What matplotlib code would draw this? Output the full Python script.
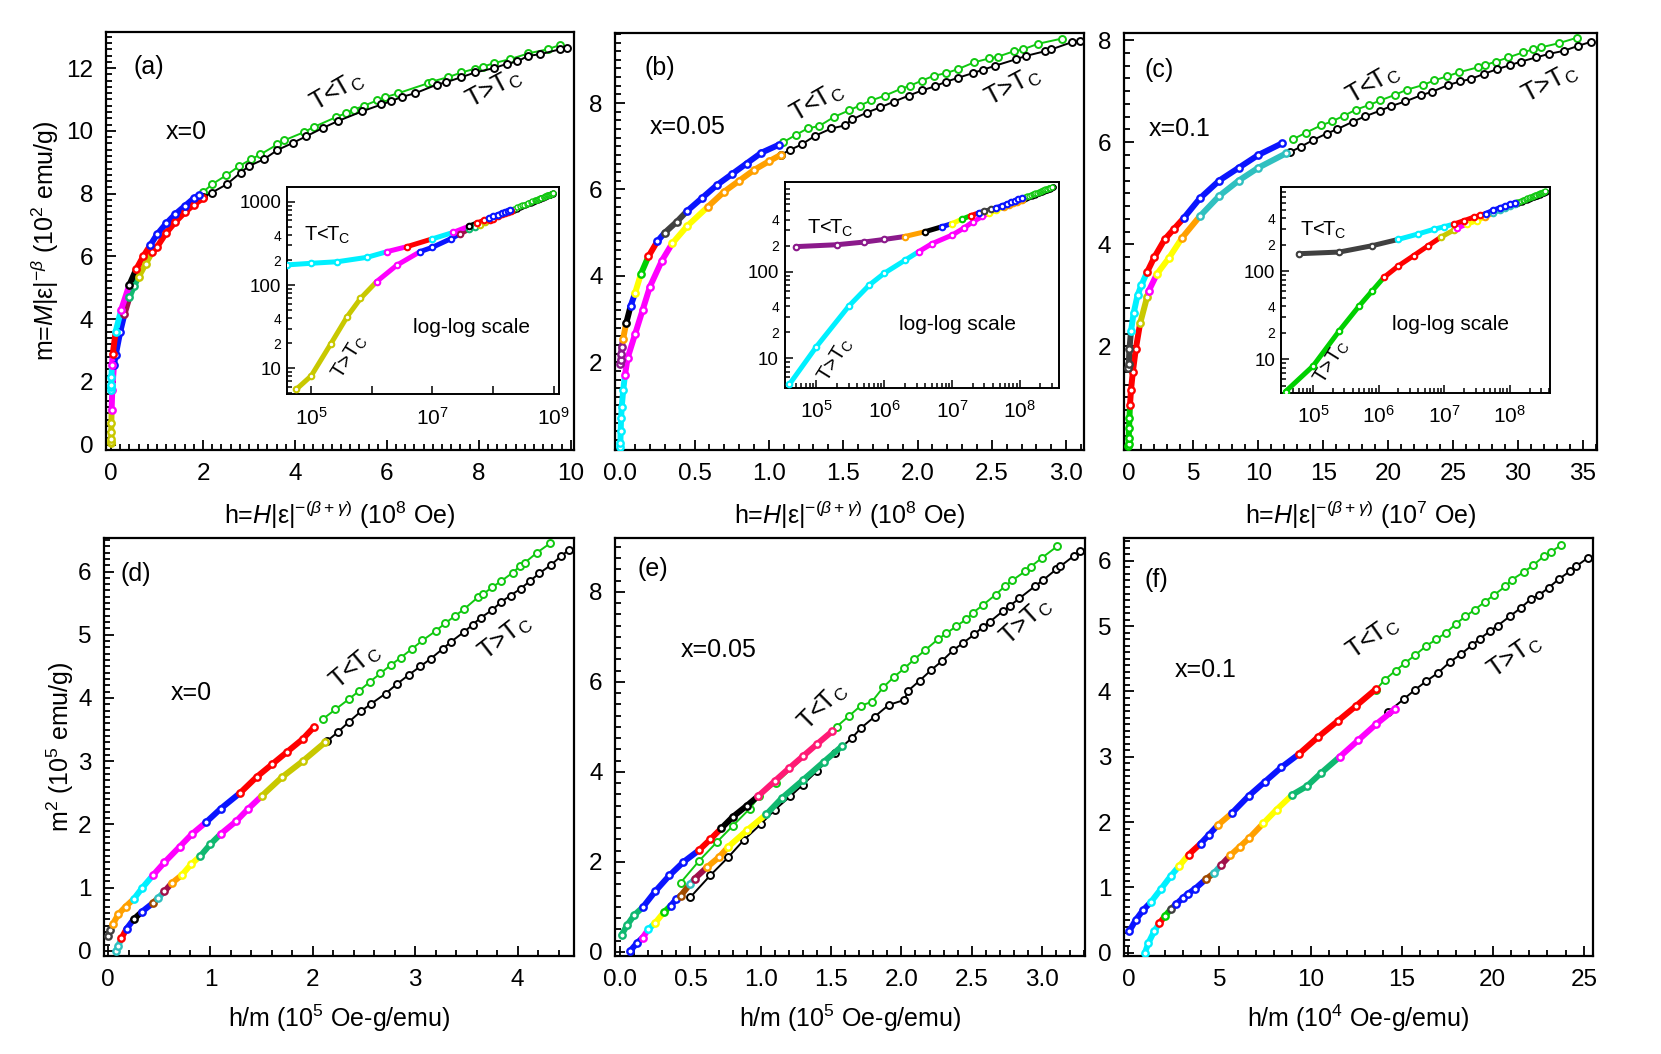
import numpy as np
import matplotlib
matplotlib.use('Agg')
import matplotlib.pyplot as plt
from matplotlib.ticker import MultipleLocator, FixedLocator, FixedFormatter, NullFormatter, NullLocator, FormatStrFormatter

plt.rcParams['font.family'] = ['Liberation Sans', 'DejaVu Sans']
plt.rcParams['mathtext.fontset'] = 'custom'
plt.rcParams['mathtext.rm'] = 'Liberation Sans'
plt.rcParams['mathtext.it'] = 'Liberation Sans:italic'
plt.rcParams['mathtext.bf'] = 'Liberation Sans:bold'
plt.rcParams['mathtext.sf'] = 'Liberation Sans'

# ---------------- data ----------------
# panel (a): h (1e8 Oe), m (1e2 emu/g)
A_UP_X = [0.0004, 0.001, 0.0027, 0.0084, 0.018, 0.038, 0.1, 0.22, 0.4, 0.55, 0.7, 0.85, 1.0, 1.2, 1.4, 1.6, 1.8, 1.92]
A_UP_Y = [1.75, 1.83, 1.91, 2.16, 2.53, 2.9, 3.6, 4.3, 5.1, 5.6, 6.0, 6.35, 6.7, 7.05, 7.35, 7.6, 7.85, 7.95]
A_UP_C = "ccccmrcmkrrbbbbbbb"
A_LO_X = [0.00057, 0.001, 0.0021, 0.0039, 0.0065, 0.012, 0.026, 0.063, 0.1, 0.2, 0.29, 0.4, 0.5, 0.6, 0.75, 0.9, 1.0, 1.2, 1.4, 1.6, 1.8, 2.0]
A_LO_Y = [0.056, 0.081, 0.196, 0.415, 0.69, 1.1, 1.74, 2.53, 2.85, 3.6, 4.15, 4.7, 5.05, 5.35, 5.75, 6.15, 6.3, 6.75, 7.1, 7.4, 7.65, 7.85]
A_LO_C = "ooooommbbbMssoorrrrrrr"
A_TU_X = [2.0, 2.2, 2.5, 2.79, 3.04, 3.25, 3.62, 3.77, 4.2, 4.42, 4.9, 5.12, 5.29, 5.5, 5.79, 5.96, 6.25, 6.9, 6.98, 7.33, 7.62, 7.92, 8.1, 8.33, 8.67, 9.08, 9.5, 9.77]
A_TU_Y = [8.05, 8.3, 8.58, 8.88, 9.09, 9.25, 9.57, 9.7, 9.96, 10.13, 10.44, 10.57, 10.68, 10.8, 10.97, 11.07, 11.2, 11.52, 11.57, 11.71, 11.86, 11.98, 12.05, 12.16, 12.28, 12.47, 12.6, 12.74]
A_TL_X = [2.0, 2.19, 2.52, 2.82, 3.0, 3.32, 3.62, 3.96, 4.25, 4.62, 4.93, 5.46, 5.88, 6.08, 6.32, 6.62, 7.08, 7.29, 7.62, 7.92, 8.33, 8.62, 8.83, 9.08, 9.33, 9.77, 9.92]
A_TL_Y = [7.88, 8.03, 8.3, 8.67, 8.88, 9.09, 9.39, 9.62, 9.83, 10.1, 10.31, 10.62, 10.84, 10.94, 11.08, 11.2, 11.47, 11.55, 11.71, 11.86, 12.0, 12.14, 12.21, 12.39, 12.44, 12.6, 12.65]

# panel (b): h (1e8 Oe), m (1e2 emu/g)
B_UP_X = [0.0005, 0.002, 0.005, 0.01, 0.02, 0.04, 0.07, 0.1, 0.14, 0.19, 0.25, 0.3, 0.38, 0.45, 0.55, 0.65, 0.75, 0.85, 0.95, 1.065]
B_UP_Y = [1.95, 2.05, 2.2, 2.36, 2.55, 2.9, 3.3, 3.6, 4.05, 4.45, 4.8, 5.0, 5.25, 5.5, 5.8, 6.1, 6.35, 6.6, 6.85, 7.03]
B_UP_C = "ppppOkbygrbddbbbbbbb"
B_LO_X = [0.0004, 0.001, 0.003, 0.006, 0.01, 0.02, 0.032, 0.05, 0.1, 0.15, 0.2, 0.28, 0.35, 0.45, 0.59, 0.7, 0.8, 0.9, 1.0, 1.08]
B_LO_Y = [0.05, 0.136, 0.4, 0.7, 0.96, 1.35, 1.7, 2.1, 2.65, 3.2, 3.75, 4.35, 4.75, 5.15, 5.6, 5.95, 6.2, 6.45, 6.65, 6.8]
B_LO_C = "ccccccmmmmmmyyOOOOOO"
B_TU_X = [1.096, 1.18, 1.26, 1.34, 1.44, 1.54, 1.61, 1.69, 1.78, 1.89, 1.95, 2.03, 2.11, 2.19, 2.27, 2.38, 2.48, 2.54, 2.65, 2.71, 2.81, 2.97]
B_TU_Y = [7.09, 7.26, 7.41, 7.47, 7.68, 7.83, 7.94, 8.06, 8.17, 8.33, 8.4, 8.52, 8.63, 8.69, 8.78, 8.94, 9.03, 9.07, 9.2, 9.24, 9.37, 9.49]
B_TL_X = [1.08, 1.14, 1.22, 1.31, 1.42, 1.51, 1.56, 1.66, 1.75, 1.84, 1.94, 2.03, 2.12, 2.19, 2.27, 2.37, 2.44, 2.52, 2.66, 2.73, 2.86, 2.9, 3.04, 3.09]
B_TL_Y = [6.8, 6.91, 7.04, 7.24, 7.41, 7.48, 7.62, 7.78, 7.9, 8.03, 8.17, 8.29, 8.39, 8.49, 8.58, 8.69, 8.77, 8.86, 9.01, 9.09, 9.2, 9.24, 9.41, 9.43]

# panel (c): h (1e7 Oe), m (1e2 emu/g)
C_UP_X = [0.006, 0.025, 0.08, 0.2, 0.4, 0.7, 1.0, 1.43, 2.0, 2.8, 3.5, 4.28, 5.5, 7.0, 8.5, 10.0, 11.84]
C_UP_Y = [1.58, 1.65, 1.95, 2.3, 2.65, 3.0, 3.2, 3.45, 3.75, 4.1, 4.3, 4.52, 4.9, 5.25, 5.5, 5.75, 5.98]
C_UP_C = "dddccccrrrrbbbbbb"
C_LO_X = [0.0038, 0.01, 0.025, 0.05, 0.08, 0.12, 0.2, 0.34, 0.57, 0.9, 1.43, 1.57, 2.2, 3.14, 4.14, 5.5, 7.0, 8.5, 10.0, 12.12]
C_LO_Y = [0.043, 0.084, 0.21, 0.4, 0.6, 0.85, 1.15, 1.5, 1.95, 2.45, 2.96, 3.09, 3.42, 3.74, 4.13, 4.55, 4.95, 5.25, 5.5, 5.78]
C_LO_C = "gggggrrrroomyyOttttt"
C_TU_X = [12.69, 13.69, 14.83, 15.69, 16.6, 17.54, 18.54, 19.4, 20.54, 21.45, 22.68, 23.53, 24.53, 25.44, 26.95, 27.44, 28.3, 29.24, 30.38, 31.15, 31.8, 33.14, 34.57]
C_TU_Y = [6.06, 6.19, 6.33, 6.41, 6.52, 6.64, 6.73, 6.82, 6.93, 7.03, 7.12, 7.21, 7.29, 7.37, 7.47, 7.51, 7.58, 7.66, 7.76, 7.82, 7.86, 7.94, 8.05]
C_TL_X = [12.41, 13.26, 14.2, 15.26, 16.03, 17.26, 18.25, 19.4, 20.25, 21.33, 22.53, 23.39, 24.61, 25.53, 26.38, 27.38, 28.38, 29.38, 30.23, 31.37, 32.37, 33.51, 34.65, 35.65]
C_TL_Y = [5.8, 5.91, 6.04, 6.17, 6.25, 6.4, 6.51, 6.62, 6.71, 6.8, 6.92, 6.99, 7.12, 7.19, 7.24, 7.34, 7.43, 7.51, 7.58, 7.66, 7.73, 7.79, 7.89, 7.97]

# panel (d): h/m (1e5), m^2 (1e5)
D_UP_X = [0.0, 0.02, 0.045, 0.1, 0.17, 0.25, 0.33, 0.44, 0.55, 0.7, 0.82, 0.96, 1.1, 1.29, 1.45, 1.6, 1.75, 1.9, 2.01]
D_UP_Y = [0.24, 0.33, 0.42, 0.58, 0.7, 0.82, 0.99, 1.2, 1.4, 1.65, 1.85, 2.04, 2.25, 2.5, 2.75, 2.95, 3.15, 3.35, 3.54]
D_UP_C = "ddOOOccmmmmbbrrrrrr"
D_LO_X = [0.08, 0.1, 0.13, 0.18, 0.25, 0.33, 0.44, 0.49, 0.55, 0.62, 0.72, 0.81, 0.9, 1.0, 1.1, 1.25, 1.37, 1.5, 1.7, 1.9, 2.12]
D_LO_Y = [0.0, 0.08, 0.2, 0.35, 0.5, 0.62, 0.76, 0.84, 0.94, 1.07, 1.2, 1.37, 1.5, 1.69, 1.85, 2.05, 2.25, 2.45, 2.75, 3.0, 3.3]
D_LO_C = "ttrbkbntMOyyssmmmoooo"
D_TU_X = [2.1, 2.22, 2.35, 2.45, 2.56, 2.66, 2.76, 2.86, 2.97, 3.07, 3.2, 3.29, 3.39, 3.48, 3.61, 3.66, 3.75, 3.84, 3.95, 4.02, 4.07, 4.19, 4.32]
D_TU_Y = [3.67, 3.82, 3.98, 4.11, 4.26, 4.39, 4.52, 4.64, 4.78, 4.91, 5.06, 5.18, 5.3, 5.41, 5.59, 5.64, 5.75, 5.85, 5.98, 6.08, 6.14, 6.3, 6.45]
D_TL_X = [2.14, 2.25, 2.35, 2.47, 2.57, 2.71, 2.82, 2.94, 3.05, 3.15, 3.27, 3.35, 3.48, 3.56, 3.64, 3.75, 3.84, 3.93, 4.03, 4.12, 4.21, 4.33, 4.42, 4.5]
D_TL_Y = [3.32, 3.47, 3.62, 3.79, 3.91, 4.07, 4.22, 4.37, 4.5, 4.62, 4.78, 4.89, 5.05, 5.16, 5.27, 5.39, 5.52, 5.62, 5.73, 5.85, 5.97, 6.11, 6.24, 6.34]

# panel (e): h/m (1e5), m^2 (1e5)
E_UP_X = [0.01, 0.05, 0.1, 0.16, 0.25, 0.35, 0.45, 0.56, 0.64, 0.72, 0.8, 0.9, 0.98, 1.1, 1.2, 1.3, 1.4, 1.51]
E_UP_Y = [0.38, 0.6, 0.82, 0.99, 1.35, 1.7, 2.0, 2.26, 2.5, 2.75, 3.0, 3.25, 3.46, 3.8, 4.08, 4.35, 4.62, 4.91]
E_UP_C = "sssbbbbrrkkkPPPPPP"
E_LO_X = [0.07, 0.12, 0.16, 0.2, 0.25, 0.31, 0.36, 0.4, 0.43, 0.5, 0.53, 0.62, 0.7, 0.77, 0.9, 1.04, 1.15, 1.3, 1.45, 1.58]
E_LO_Y = [0.02, 0.2, 0.32, 0.5, 0.65, 0.88, 1.03, 1.18, 1.25, 1.52, 1.63, 1.89, 2.1, 2.34, 2.7, 3.06, 3.42, 3.82, 4.23, 4.58]
E_LO_C = "bbmcygbbntMOOyysssss"
E_TU_X = [0.43, 0.56, 0.69, 0.8, 0.92, 0.99, 1.11, 1.54, 1.63, 1.71, 1.79, 1.87, 1.95, 2.02, 2.09, 2.17, 2.26, 2.32, 2.39, 2.46, 2.51, 2.58, 2.67, 2.74, 2.79, 2.88, 2.92, 3.0, 3.11]
E_TU_Y = [1.54, 2.02, 2.45, 2.8, 3.18, 3.46, 3.76, 5.01, 5.25, 5.47, 5.56, 5.88, 6.12, 6.3, 6.5, 6.71, 6.95, 7.08, 7.24, 7.39, 7.54, 7.71, 7.94, 8.14, 8.26, 8.46, 8.56, 8.76, 9.02]
E_TL_X = [0.5, 0.64, 0.77, 0.88, 1.0, 1.1, 1.21, 1.3, 1.4, 1.53, 1.65, 1.71, 1.81, 1.91, 2.02, 2.05, 2.13, 2.21, 2.29, 2.37, 2.44, 2.52, 2.58, 2.63, 2.72, 2.77, 2.84, 2.95, 3.01, 3.1, 3.13, 3.23, 3.27]
E_TL_Y = [1.22, 1.7, 2.11, 2.49, 2.84, 3.16, 3.46, 3.72, 4.02, 4.43, 4.76, 4.97, 5.23, 5.49, 5.6, 5.81, 6.03, 6.26, 6.47, 6.71, 6.87, 7.06, 7.23, 7.34, 7.57, 7.69, 7.86, 8.13, 8.27, 8.5, 8.57, 8.81, 8.91]

# panel (f): h/m (1e4), m^2 (1e5)
F_UP_X = [0.05, 0.4, 0.8, 1.22, 1.8, 2.34, 2.8, 3.3, 3.96, 4.4, 4.9, 5.69, 6.6, 7.5, 8.4, 9.35, 10.4, 11.5, 12.5, 13.6]
F_UP_Y = [0.33, 0.5, 0.65, 0.77, 0.98, 1.18, 1.33, 1.5, 1.67, 1.8, 1.95, 2.14, 2.4, 2.62, 2.84, 3.04, 3.3, 3.55, 3.78, 4.04]
F_UP_C = "bbbcccyrbbObbbbrrrrr"
F_LO_X = [0.91, 1.1, 1.42, 1.7, 2.03, 2.34, 2.64, 3.0, 3.25, 3.66, 4.27, 4.7, 5.08, 5.59, 6.1, 6.61, 7.4, 8.13, 9.0, 9.8, 10.57, 11.6, 12.6, 13.6, 14.63]
F_LO_Y = [0.0, 0.15, 0.33, 0.45, 0.57, 0.67, 0.75, 0.84, 0.9, 0.98, 1.13, 1.22, 1.34, 1.49, 1.62, 1.75, 1.98, 2.19, 2.42, 2.55, 2.75, 3.0, 3.25, 3.5, 3.73]
F_LO_C = "cccrgdbbbbntMOOOyysssmmmm"
F_TU_X = [13.6, 14.07, 14.67, 15.2, 15.75, 16.36, 16.91, 17.44, 17.99, 18.5, 19.0, 19.55, 20.08, 20.69, 21.04, 21.71, 22.2, 22.8, 23.21, 23.74]
F_TU_Y = [4.03, 4.18, 4.32, 4.44, 4.56, 4.7, 4.8, 4.9, 5.04, 5.15, 5.25, 5.37, 5.48, 5.61, 5.71, 5.83, 5.93, 6.07, 6.14, 6.24]
F_TL_X = [14.23, 15.14, 15.75, 16.36, 16.97, 17.64, 18.25, 18.86, 19.31, 19.82, 20.28, 20.93, 21.54, 22.11, 22.56, 23.07, 23.62, 24.23, 24.59, 25.24]
F_TL_Y = [3.68, 3.89, 4.03, 4.16, 4.28, 4.45, 4.57, 4.71, 4.81, 4.92, 5.01, 5.15, 5.28, 5.42, 5.48, 5.59, 5.72, 5.84, 5.92, 6.05]

COL = {'k': '#000000', 'r': '#ff0000', 'b': '#0a14ff', 'g': '#00d000', 'c': '#00f0ff',
       'm': '#ff00ff', 'y': '#ffff00', 'o': '#c8c800', 'O': '#ffa000', 'M': '#a0104a',
       'n': '#a04a00', 's': '#10b870', 'd': '#404040', 'p': '#8b1a8b', 'P': '#ff1a75',
       't': '#30c0c0'}
GREEN_TAIL = '#10c810'

W, H = 1661, 1054
fig = plt.figure(figsize=(W / 100, H / 100), dpi=100)


def box(l, r, t, b):
    return [l / W, 1 - b / H, (r - l) / W, (b - t) / H]


def draw_runs(ax, xs, ys, codes, sx=1.0, sy=1.0, lw=4.3, ms=4.6, mew=1.7):
    xs = np.asarray(xs, float) * sx
    ys = np.asarray(ys, float) * sy
    n = len(xs)
    i = 0
    while i < n:
        j = i
        while j + 1 < n and codes[j + 1] == codes[i]:
            j += 1
        col = COL[codes[i]]
        end = min(j + 2, n)
        ax.plot(xs[i:end], ys[i:end], '-', color=col, lw=lw, solid_capstyle='round', zorder=3)
        ax.plot(xs[i:j + 1], ys[i:j + 1], 'o', ms=ms, mfc='white', mec=col, mew=mew, zorder=4)
        i = j + 1


def draw_tail(ax, xs, ys, col, sx=1.0, sy=1.0, ms=5.0, lw=1.4, mew=1.4):
    ax.plot(np.asarray(xs) * sx, np.asarray(ys) * sy, '-o', color=col, lw=lw, ms=ms,
            mfc='white', mec=col, mew=mew, zorder=2)


def style(ax, fs=17.5):
    for s in ax.spines.values():
        s.set_linewidth(1.6)
    ax.tick_params(which='both', direction='in', top=False, right=False, width=1.3,
                   labelsize=fs, pad=9)
    ax.tick_params(which='major', length=7)
    ax.tick_params(which='minor', length=4.5)


def txt(ax, x, y, s, rot=0, fs=18):
    ax.text(x, y, s, transform=ax.transAxes, fontsize=fs, rotation=rot,
            ha='center', va='center', rotation_mode='anchor')


TLT = r'T<T$_\mathrm{C}$'
TGT = r'T>T$_\mathrm{C}$'
XLAB_H = r'h=$H$|ε|$^{-(\beta+\gamma)}$ (10$^{%d}$ Oe)'

TOP_T, TOP_B = 32, 450
BOT_T, BOT_B = 538, 956

panels = [
    dict(key='a', pos=box(106, 574, TOP_T, TOP_B), up=(A_UP_X, A_UP_Y, A_UP_C), lo=(A_LO_X, A_LO_Y, A_LO_C),
         tu=(A_TU_X, A_TU_Y), tl=(A_TL_X, A_TL_Y), xlim=(-0.11, 10.07), ylim=(-0.17, 13.15),
         xmaj=2, xmin=0.2, ymaj=2, ymin=0.2, yticks=None, fmt='%d',
         xlabel=XLAB_H % 8, ylabel=r'm=$M$|ε|$^{-\beta}$ (10$^2$ emu/g)',
         lab=(0.092, 0.917), xt=(0.171, 0.76, 'x=0'), tlt=(0.493, 0.857, 30), tgt=(0.829, 0.866, 28)),
    dict(key='b', pos=box(615, 1084, TOP_T + 1, TOP_B), up=(B_UP_X, B_UP_Y, B_UP_C), lo=(B_LO_X, B_LO_Y, B_LO_C),
         tu=(B_TU_X, B_TU_Y), tl=(B_TL_X, B_TL_Y), xlim=(-0.035, 3.12), ylim=(-0.03, 9.62),
         xmaj=0.5, xmin=0.1, ymaj=2, ymin=0.2, yticks=[2, 4, 6, 8], fmt='%.1f',
         xlabel=XLAB_H % 8, ylabel=None,
         lab=(0.096, 0.917), xt=(0.154, 0.774, 'x=0.05'), tlt=(0.43, 0.833, 30), tgt=(0.848, 0.872, 28)),
    dict(key='c', pos=box(1124, 1597, TOP_T + 1, TOP_B), up=(C_UP_X, C_UP_Y, C_UP_C), lo=(C_LO_X, C_LO_Y, C_LO_C),
         tu=(C_TU_X, C_TU_Y), tl=(C_TL_X, C_TL_Y), xlim=(-0.34, 36.08), ylim=(-0.03, 8.14),
         xmaj=5, xmin=1, ymaj=2, ymin=0.25, yticks=[2, 4, 6, 8], fmt='%d',
         xlabel=XLAB_H % 7, ylabel=None,
         lab=(0.075, 0.912), xt=(0.118, 0.77, 'x=0.1'), tlt=(0.526, 0.876, 30), tgt=(0.90, 0.88, 28)),
    dict(key='d', pos=box(104, 574, BOT_T, BOT_B), up=(D_UP_X, D_UP_Y, D_UP_C), lo=(D_LO_X, D_LO_Y, D_LO_C),
         tu=(D_TU_X, D_TU_Y), tl=(D_TL_X, D_TL_Y), xlim=(-0.04, 4.55), ylim=(-0.08, 6.53),
         xmaj=1, xmin=0.2, ymaj=1, ymin=0.1, yticks=None, fmt='%d',
         xlabel=r'h/m (10$^5$ Oe-g/emu)', ylabel=r'm$^2$ (10$^5$ emu/g)',
         lab=(0.068, 0.915), xt=(0.186, 0.628, 'x=0'), tlt=(0.536, 0.692, 40), tgt=(0.854, 0.761, 38)),
    dict(key='e', pos=box(615, 1085, BOT_T, BOT_B), up=(E_UP_X, E_UP_Y, E_UP_C), lo=(E_LO_X, E_LO_Y, E_LO_C),
         tu=(E_TU_X, E_TU_Y), tl=(E_TL_X, E_TL_Y), xlim=(-0.037, 3.306), ylim=(-0.09, 9.2),
         xmaj=0.5, xmin=0.1, ymaj=2, ymin=0.25, yticks=None, fmt='%.1f',
         xlabel=r'h/m (10$^5$ Oe-g/emu)', ylabel=None,
         lab=(0.081, 0.927), xt=(0.22, 0.733, 'x=0.05'), tlt=(0.443, 0.596, 45), tgt=(0.876, 0.80, 42)),
    dict(key='f', pos=box(1124, 1593, BOT_T, BOT_B), up=(F_UP_X, F_UP_Y, F_UP_C), lo=(F_LO_X, F_LO_Y, F_LO_C),
         tu=(F_TU_X, F_TU_Y), tl=(F_TL_X, F_TL_Y), xlim=(-0.24, 25.5), ylim=(-0.05, 6.35),
         xmaj=5, xmin=1, ymaj=1, ymin=0.1, yticks=None, fmt='%d',
         xlabel=r'h/m (10$^4$ Oe-g/emu)', ylabel=None,
         lab=(0.068, 0.899), xt=(0.175, 0.684, 'x=0.1'), tlt=(0.53, 0.761, 35), tgt=(0.834, 0.717, 35)),
]

for p in panels:
    ax = fig.add_axes(p['pos'])
    draw_tail(ax, *p['tu'], GREEN_TAIL)
    draw_tail(ax, *p['tl'], '#000000')
    draw_runs(ax, *p['lo'])
    draw_runs(ax, *p['up'])
    ax.set_xlim(*p['xlim'])
    ax.set_ylim(*p['ylim'])
    ax.xaxis.set_major_locator(MultipleLocator(p['xmaj']))
    ax.xaxis.set_minor_locator(MultipleLocator(p['xmin']))
    ax.xaxis.set_major_formatter(FormatStrFormatter(p['fmt']))
    if p['yticks'] is not None:
        ax.yaxis.set_major_locator(FixedLocator(p['yticks']))
    else:
        ax.yaxis.set_major_locator(MultipleLocator(p['ymaj']))
    ax.yaxis.set_minor_locator(MultipleLocator(p['ymin']))
    ax.yaxis.set_major_formatter(FormatStrFormatter('%d'))
    style(ax)
    ax.set_xlabel(p['xlabel'], fontsize=18, va='center')
    if p['key'] in 'abc':
        ax.xaxis.set_label_coords(0.5, -0.155)
    else:
        ax.xaxis.set_label_coords(0.5, -0.148)
    if p['ylabel']:
        ax.set_ylabel(p['ylabel'], fontsize=18, va='center')
        ax.yaxis.set_label_coords(-0.13 if p['key'] == 'a' else -0.092, 0.5)
    txt(ax, p['lab'][0], p['lab'][1], '(%s)' % p['key'], fs=18)
    txt(ax, p['xt'][0], p['xt'][1], p['xt'][2], fs=18)
    txt(ax, p['tlt'][0], p['tlt'][1], TLT, rot=p['tlt'][2], fs=18)
    txt(ax, p['tgt'][0], p['tgt'][1], TGT, rot=p['tgt'][2], fs=18)

# ---------------- insets (log-log) ----------------
insets = [
    dict(pos=box(287, 559, 187, 394), sx=1e8, xl=(10 ** 4.6, 10 ** 9.09), yl=(10 ** 0.69, 10 ** 3.18),
         xlabels={5: r'10$^5$', 7: r'10$^7$', 9: r'10$^9$'}, xdec=range(5, 10), xminor=False,
         ymaj=[10, 100, 1000], data=(A_UP_X, A_UP_Y, A_UP_C, A_LO_X, A_LO_Y, A_LO_C, A_TU_X, A_TU_Y, A_TL_X, A_TL_Y),
         t1=(0.147, 0.768), t2=(0.68, 0.319), t3=(0.232, 0.179)),
    dict(pos=box(784.5, 1058.6, 181.7, 387.7), sx=1e8, xl=(10 ** 4.53, 10 ** 8.57), yl=(10 ** 0.66, 10 ** 3.04),
         xlabels={5: r'10$^5$', 6: r'10$^6$', 7: r'10$^7$', 8: r'10$^8$'}, xdec=range(5, 9), xminor=True,
         ymaj=[10, 100], data=(B_UP_X, B_UP_Y, B_UP_C, B_LO_X, B_LO_Y, B_LO_C, B_TU_X, B_TU_Y, B_TL_X, B_TL_Y),
         t1=(0.166, 0.775), t2=(0.632, 0.305), t3=(0.186, 0.135)),
    dict(pos=box(1281, 1549.8, 186.7, 392.7), sx=1e7, xl=(10 ** 4.51, 10 ** 8.61), yl=(10 ** 0.62, 10 ** 2.96),
         xlabels={5: r'10$^5$', 6: r'10$^6$', 7: r'10$^7$', 8: r'10$^8$'}, xdec=range(5, 9), xminor=True,
         ymaj=[10, 100], data=(C_UP_X, C_UP_Y, C_UP_C, C_LO_X, C_LO_Y, C_LO_C, C_TU_X, C_TU_Y, C_TL_X, C_TL_Y),
         t1=(0.155, 0.79), t2=(0.63, 0.33), t3=(0.19, 0.15)),
]


def minor_label(v):
    lead = int(round(v / 10 ** np.floor(np.log10(v) + 1e-9)))
    return str(lead) if lead in (2, 4) else ''


for ins in insets:
    ax = fig.add_axes(ins['pos'])
    ux, uy, uc, lx, ly, lc, tux, tuy, tlx, tly = ins['data']
    sx = ins['sx']
    draw_tail(ax, tlx, tly, '#000000', sx=sx, sy=100, ms=3.6, lw=1.0, mew=1.0)
    draw_tail(ax, tux, tuy, GREEN_TAIL, sx=sx, sy=100, ms=3.6, lw=1.0, mew=1.0)
    draw_runs(ax, lx, ly, lc, sx=sx, sy=100, lw=3.6, ms=4.0, mew=1.5)
    draw_runs(ax, ux, uy, uc, sx=sx, sy=100, lw=3.6, ms=4.0, mew=1.5)
    ax.set_xscale('log')
    ax.set_yscale('log')
    ax.set_xlim(*ins['xl'])
    ax.set_ylim(*ins['yl'])
    xt = [10.0 ** d for d in ins['xdec']]
    ax.xaxis.set_major_locator(FixedLocator(xt))
    ax.xaxis.set_major_formatter(FixedFormatter([ins['xlabels'].get(d, '') for d in ins['xdec']]))
    if ins['xminor']:
        mins = [k * 10.0 ** d for d in range(4, 9) for k in range(2, 10)]
        mins = [v for v in mins if ins['xl'][0] < v < ins['xl'][1]]
        ax.xaxis.set_minor_locator(FixedLocator(mins))
    else:
        ax.xaxis.set_minor_locator(NullLocator())
    ax.xaxis.set_minor_formatter(NullFormatter())
    ax.yaxis.set_major_locator(FixedLocator(ins['ymaj']))
    ax.yaxis.set_major_formatter(FixedFormatter([str(v) for v in ins['ymaj']]))
    ymins = [k * 10.0 ** d for d in range(0, 4) for k in range(2, 10)]
    ymins = [v for v in ymins if ins['yl'][0] < v < ins['yl'][1]]
    ax.yaxis.set_minor_locator(FixedLocator(ymins))
    ax.yaxis.set_minor_formatter(FixedFormatter([minor_label(v) for v in ymins]))
    for s in ax.spines.values():
        s.set_linewidth(1.4)
    ax.tick_params(which='both', direction='in', top=False, right=False, width=1.1, pad=4)
    ax.tick_params(which='major', length=6)
    ax.tick_params(which='minor', length=3.5, labelsize=10)
    ax.tick_params(axis='y', which='major', labelsize=13.5)
    ax.tick_params(axis='x', which='major', labelsize=15, pad=9)
    txt(ax, ins['t1'][0], ins['t1'][1], TLT, fs=14.5)
    txt(ax, ins['t2'][0], ins['t2'][1], 'log-log scale', fs=15)
    txt(ax, ins['t3'][0], ins['t3'][1], TGT, rot=58, fs=14.5)

fig.savefig('out.png', dpi=100)
